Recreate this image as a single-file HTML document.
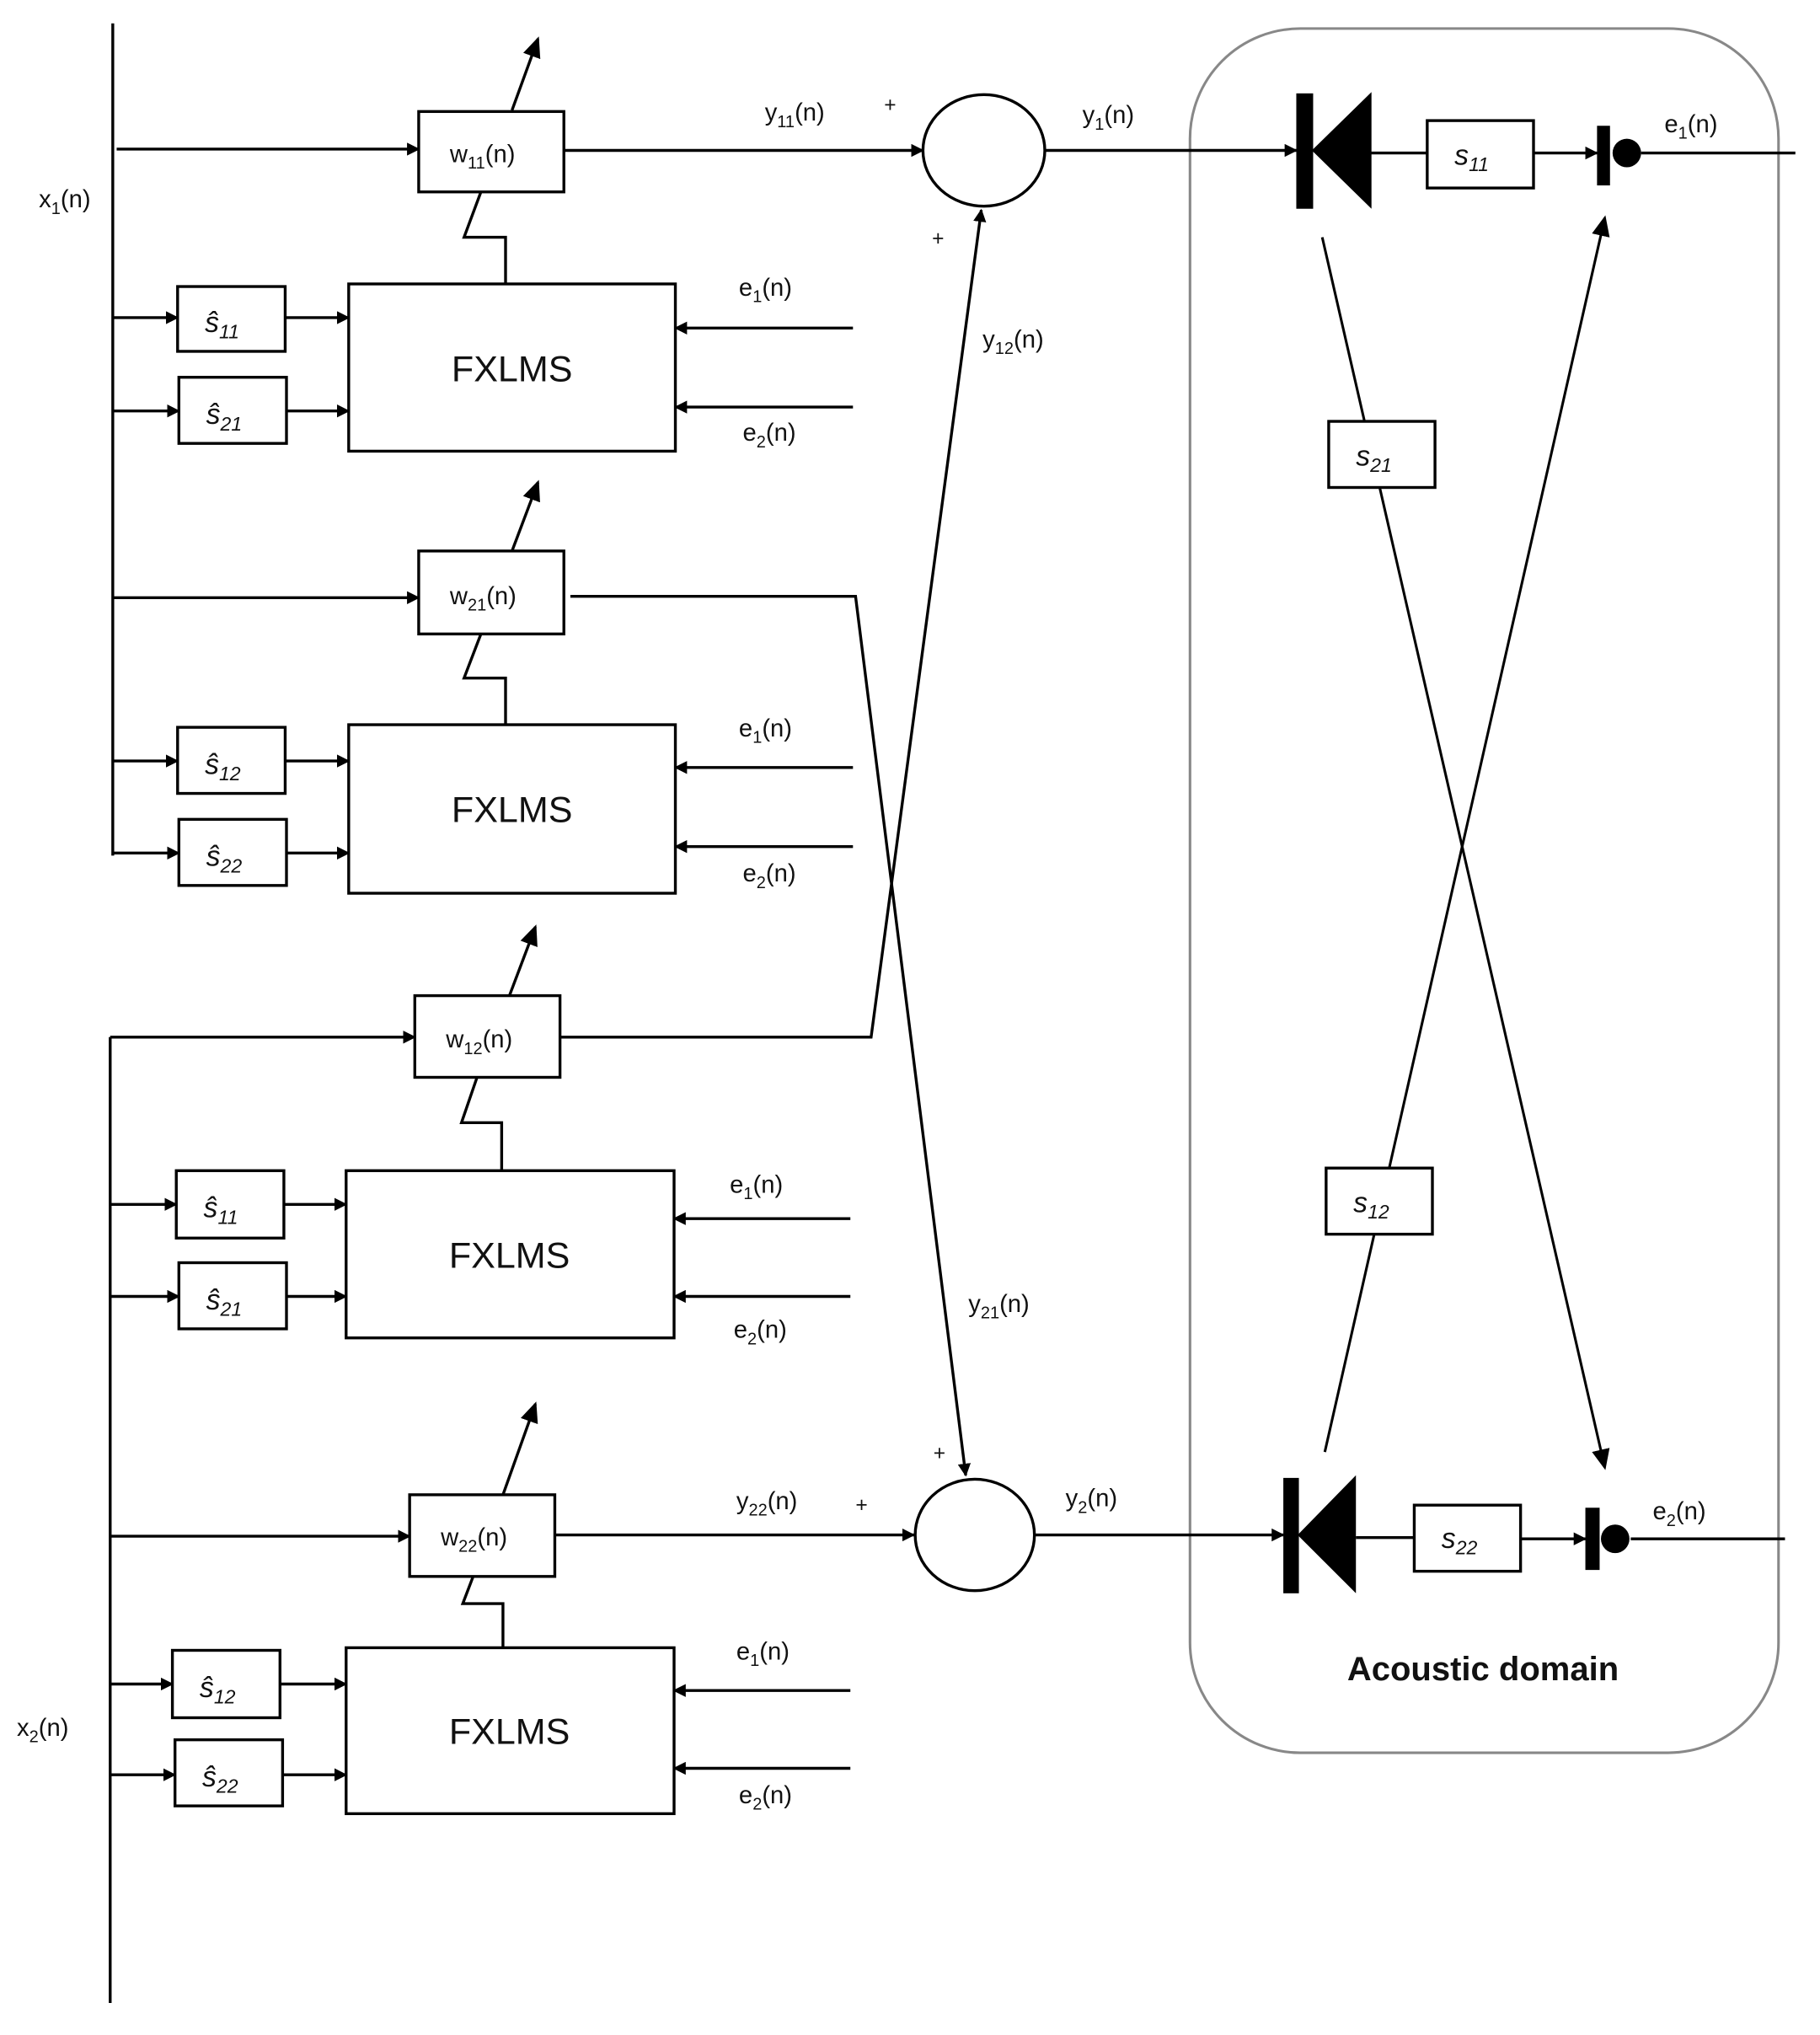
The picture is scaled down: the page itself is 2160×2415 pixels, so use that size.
<!DOCTYPE html>
<html><head><meta charset="utf-8"><style>
html,body{margin:0;padding:0;background:#fff}
svg{display:block}
text{font-family:"Liberation Sans",sans-serif;fill:#111}
.l{font-size:19px}
.s{font-family:"Liberation Serif",serif;font-style:italic;font-size:22px}
.f{font-size:28px}
</style></head><body>
<svg width="2160" height="2415" viewBox="0 0 1404 1569.7" xmlns="http://www.w3.org/2000/svg">
<defs>
<marker id="a" markerWidth="10" markerHeight="10" refX="9" refY="5" orient="auto" markerUnits="userSpaceOnUse">
<path d="M0,0 L10,5 L0,10 z" fill="#000"/></marker>
<marker id="b" markerWidth="16" markerHeight="14" refX="14" refY="7" orient="auto" markerUnits="userSpaceOnUse">
<path d="M0,0 L16,7 L0,14 z" fill="#000"/></marker>
</defs>
<g stroke="#000" stroke-width="2.2" fill="none">
<!-- acoustic domain -->
<rect x="918" y="22" width="454" height="1330" rx="85" stroke="#888" stroke-width="2"/>
<!-- x1 line -->
<line x1="87" y1="18" x2="87" y2="660"/>
<!-- x2 line -->
<line x1="85" y1="800" x2="85" y2="1545"/>

<!-- block 1 -->
<line x1="90" y1="115" x2="323" y2="115" marker-end="url(#a)"/>
<rect x="323" y="86" width="112" height="62"/>
<line x1="435" y1="116" x2="712" y2="116" marker-end="url(#a)"/>
<line x1="395" y1="85" x2="415" y2="30" marker-end="url(#b)"/>
<polyline points="371,148 358,183 390,183 390,219"/>
<rect x="269" y="219" width="252" height="129"/>
<rect x="137" y="221" width="83" height="50"/>
<rect x="138" y="291" width="83" height="51"/>
<line x1="87" y1="245" x2="137" y2="245" marker-end="url(#a)"/>
<line x1="220" y1="245" x2="269" y2="245" marker-end="url(#a)"/>
<line x1="87" y1="317" x2="138" y2="317" marker-end="url(#a)"/>
<line x1="221" y1="317" x2="269" y2="317" marker-end="url(#a)"/>
<line x1="658" y1="253" x2="521" y2="253" marker-end="url(#a)"/>
<line x1="658" y1="314" x2="521" y2="314" marker-end="url(#a)"/>

<!-- block 2 -->
<line x1="87" y1="461" x2="323" y2="461" marker-end="url(#a)"/>
<rect x="323" y="425" width="112" height="64"/>
<polyline points="440,460 660,460 745,1138" marker-end="url(#a)"/>
<line x1="395" y1="425" x2="415" y2="372" marker-end="url(#b)"/>
<polyline points="371,489 358,523 390,523 390,559"/>
<rect x="269" y="559" width="252" height="130"/>
<rect x="137" y="561" width="83" height="51"/>
<rect x="138" y="632" width="83" height="51"/>
<line x1="87" y1="587" x2="137" y2="587" marker-end="url(#a)"/>
<line x1="220" y1="587" x2="269" y2="587" marker-end="url(#a)"/>
<line x1="87" y1="658" x2="138" y2="658" marker-end="url(#a)"/>
<line x1="221" y1="658" x2="269" y2="658" marker-end="url(#a)"/>
<line x1="658" y1="592" x2="521" y2="592" marker-end="url(#a)"/>
<line x1="658" y1="653" x2="521" y2="653" marker-end="url(#a)"/>

<!-- block 3 -->
<line x1="85" y1="800" x2="320" y2="800" marker-end="url(#a)"/>
<rect x="320" y="768" width="112" height="63"/>
<polyline points="432,800 672,800 757,162" marker-end="url(#a)"/>
<line x1="393" y1="768" x2="413" y2="715" marker-end="url(#b)"/>
<polyline points="368,831 356,866 387,866 387,903"/>
<rect x="267" y="903" width="253" height="129"/>
<rect x="136" y="903" width="83" height="52"/>
<rect x="138" y="974" width="83" height="51"/>
<line x1="85" y1="929" x2="136" y2="929" marker-end="url(#a)"/>
<line x1="219" y1="929" x2="267" y2="929" marker-end="url(#a)"/>
<line x1="85" y1="1000" x2="138" y2="1000" marker-end="url(#a)"/>
<line x1="221" y1="1000" x2="267" y2="1000" marker-end="url(#a)"/>
<line x1="656" y1="940" x2="520" y2="940" marker-end="url(#a)"/>
<line x1="656" y1="1000" x2="520" y2="1000" marker-end="url(#a)"/>

<!-- block 4 -->
<line x1="85" y1="1185" x2="316" y2="1185" marker-end="url(#a)"/>
<rect x="316" y="1153" width="112" height="63"/>
<line x1="428" y1="1184" x2="705" y2="1184" marker-end="url(#a)"/>
<line x1="388" y1="1153" x2="413" y2="1083" marker-end="url(#b)"/>
<polyline points="365,1216 357,1237 388,1237 388,1271"/>
<rect x="267" y="1271" width="253" height="128"/>
<rect x="133" y="1273" width="83" height="52"/>
<rect x="135" y="1342" width="83" height="51"/>
<line x1="85" y1="1299" x2="133" y2="1299" marker-end="url(#a)"/>
<line x1="216" y1="1299" x2="267" y2="1299" marker-end="url(#a)"/>
<line x1="85" y1="1369" x2="135" y2="1369" marker-end="url(#a)"/>
<line x1="218" y1="1369" x2="267" y2="1369" marker-end="url(#a)"/>
<line x1="656" y1="1304" x2="520" y2="1304" marker-end="url(#a)"/>
<line x1="656" y1="1364" x2="520" y2="1364" marker-end="url(#a)"/>

<!-- summers -->
<ellipse cx="759" cy="116" rx="47" ry="43"/>
<ellipse cx="752" cy="1184" rx="46" ry="43"/>
<line x1="806" y1="116" x2="1000" y2="116" marker-end="url(#a)"/>
<line x1="798" y1="1184" x2="990" y2="1184" marker-end="url(#a)"/>

<!-- acoustic paths top -->
<line x1="1057" y1="118" x2="1101" y2="118"/>
<rect x="1101" y="93" width="82" height="52"/>
<line x1="1183" y1="118" x2="1232" y2="118" marker-end="url(#a)"/>
<line x1="1266" y1="118" x2="1385" y2="118"/>
<!-- bottom -->
<line x1="1046" y1="1186" x2="1091" y2="1186"/>
<rect x="1091" y="1161" width="82" height="51"/>
<line x1="1173" y1="1187" x2="1223" y2="1187" marker-end="url(#a)"/>
<line x1="1258" y1="1187" x2="1377" y2="1187"/>
<!-- cross paths -->
<line x1="1020" y1="183" x2="1238" y2="1132" marker-end="url(#b)" stroke-width="2"/>
<line x1="1022" y1="1120" x2="1238" y2="168" marker-end="url(#b)" stroke-width="2"/>
</g>
<rect x="1025" y="325" width="82" height="51" fill="#fff" stroke="#000" stroke-width="2.2"/>
<rect x="1023" y="901" width="82" height="51" fill="#fff" stroke="#000" stroke-width="2.2"/>
<!-- speakers & mics -->
<g fill="#000">
<rect x="1000" y="72" width="13" height="89"/>
<polygon points="1012,116 1058,71 1058,161"/>
<rect x="1232" y="97" width="10" height="46"/>
<circle cx="1255" cy="118" r="11"/>
<rect x="990" y="1140" width="12" height="89"/>
<polygon points="1001,1184 1046,1138 1046,1229"/>
<rect x="1223" y="1163" width="11" height="48"/>
<circle cx="1246" cy="1187" r="11"/>
</g>
<!-- labels -->
<g class="l">
<text x="30" y="160">x<tspan font-size="13" dy="5">1</tspan><tspan dy="-5">(n)</tspan></text>
<text x="13" y="1339">x<tspan font-size="13" dy="5">2</tspan><tspan dy="-5">(n)</tspan></text>
<text x="347" y="125">w<tspan font-size="13" dy="5">11</tspan><tspan dy="-5">(n)</tspan></text>
<text x="347" y="466">w<tspan font-size="13" dy="5">21</tspan><tspan dy="-5">(n)</tspan></text>
<text x="344" y="808">w<tspan font-size="13" dy="5">12</tspan><tspan dy="-5">(n)</tspan></text>
<text x="340" y="1192">w<tspan font-size="13" dy="5">22</tspan><tspan dy="-5">(n)</tspan></text>
<text x="590" y="93">y<tspan font-size="13" dy="5">11</tspan><tspan dy="-5">(n)</tspan></text>
<text x="758" y="268">y<tspan font-size="13" dy="5">12</tspan><tspan dy="-5">(n)</tspan></text>
<text x="747" y="1012">y<tspan font-size="13" dy="5">21</tspan><tspan dy="-5">(n)</tspan></text>
<text x="568" y="1164">y<tspan font-size="13" dy="5">22</tspan><tspan dy="-5">(n)</tspan></text>
<text x="835" y="95">y<tspan font-size="13" dy="5">1</tspan><tspan dy="-5">(n)</tspan></text>
<text x="822" y="1162">y<tspan font-size="13" dy="5">2</tspan><tspan dy="-5">(n)</tspan></text>
<text x="1284" y="102">e<tspan font-size="13" dy="5">1</tspan><tspan dy="-5">(n)</tspan></text>
<text x="1275" y="1172">e<tspan font-size="13" dy="5">2</tspan><tspan dy="-5">(n)</tspan></text>
<text x="570" y="228">e<tspan font-size="13" dy="5">1</tspan><tspan dy="-5">(n)</tspan></text>
<text x="573" y="340">e<tspan font-size="13" dy="5">2</tspan><tspan dy="-5">(n)</tspan></text>
<text x="570" y="568">e<tspan font-size="13" dy="5">1</tspan><tspan dy="-5">(n)</tspan></text>
<text x="573" y="680">e<tspan font-size="13" dy="5">2</tspan><tspan dy="-5">(n)</tspan></text>
<text x="563" y="920">e<tspan font-size="13" dy="5">1</tspan><tspan dy="-5">(n)</tspan></text>
<text x="566" y="1032">e<tspan font-size="13" dy="5">2</tspan><tspan dy="-5">(n)</tspan></text>
<text x="568" y="1280">e<tspan font-size="13" dy="5">1</tspan><tspan dy="-5">(n)</tspan></text>
<text x="570" y="1391">e<tspan font-size="13" dy="5">2</tspan><tspan dy="-5">(n)</tspan></text>
<text x="682" y="86" font-size="16">+</text>
<text x="719" y="189" font-size="16">+</text>
<text x="660" y="1166" font-size="16">+</text>
<text x="720" y="1126" font-size="16">+</text>
</g>
<g class="f" text-anchor="middle">
<text x="395" y="294">FXLMS</text>
<text x="395" y="634">FXLMS</text>
<text x="393" y="978">FXLMS</text>
<text x="393" y="1345">FXLMS</text>
</g>
<g class="s">
<text x="158" y="256">ŝ<tspan font-size="15" dy="5">11</tspan></text>
<text x="159" y="327">ŝ<tspan font-size="15" dy="5">21</tspan></text>
<text x="158" y="597">ŝ<tspan font-size="15" dy="5">12</tspan></text>
<text x="159" y="668">ŝ<tspan font-size="15" dy="5">22</tspan></text>
<text x="157" y="939">ŝ<tspan font-size="15" dy="5">11</tspan></text>
<text x="159" y="1010">ŝ<tspan font-size="15" dy="5">21</tspan></text>
<text x="154" y="1309">ŝ<tspan font-size="15" dy="5">12</tspan></text>
<text x="156" y="1378">ŝ<tspan font-size="15" dy="5">22</tspan></text>
<text x="1122" y="127">s<tspan font-size="15" dy="5">11</tspan></text>
<text x="1046" y="359">s<tspan font-size="15" dy="5">21</tspan></text>
<text x="1044" y="935">s<tspan font-size="15" dy="5">12</tspan></text>
<text x="1112" y="1194">s<tspan font-size="15" dy="5">22</tspan></text>
</g>
<text x="1144" y="1296" text-anchor="middle" font-size="26" font-weight="bold">Acoustic domain</text>
</svg>
</body></html>
